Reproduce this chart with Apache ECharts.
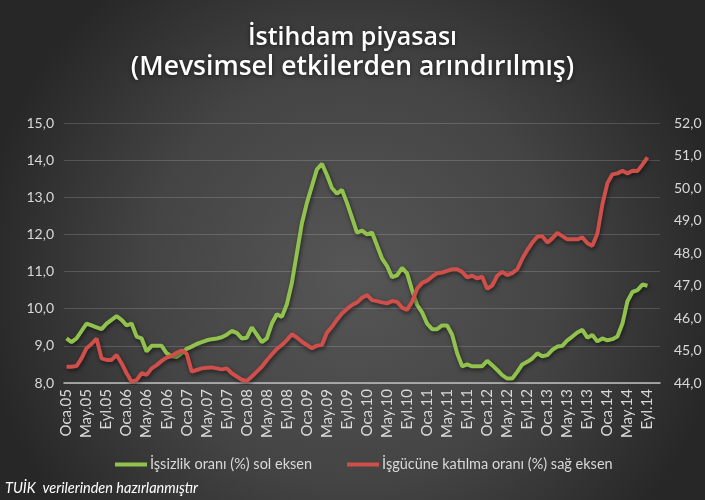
<!DOCTYPE html>
<html>
<head>
<meta charset="utf-8">
<script src="https://cdn.jsdelivr.net/npm/echarts@6/dist/echarts.min.js"></script>
<style>
html,body{margin:0;padding:0;background:#2b2b2b;}
#c{width:705px;height:500px;}
</style>
</head>
<body>
<div id="c"></div>
<script>
// Category labels (Turkish month abbreviations, years 2005-2014)
var monthNames = ['Oca','Şub','Mar','Nis','May','Haz','Tem','Ağu','Eyl','Eki','Kas','Ara'];
var years = ['05','06','07','08','09','10','11','12','13','14'];
var categoryCount = 119; // Oca.05 .. Kas.14

// İşsizlik oranı (%) - left axis
var unemployment = [
 9.2, 9.1, 9.2, 9.4, 9.6, 9.55, 9.5, 9.45, 9.6, 9.7, 9.8, 9.7,
 9.55, 9.6, 9.25, 9.2, 8.85, 9.0, 9.0, 9.0, 8.8, 8.72, 8.7, 8.8,
 8.92, 8.98, 9.05, 9.1, 9.15, 9.18, 9.2, 9.23, 9.3, 9.4, 9.35, 9.2,
 9.22, 9.5, 9.3, 9.1, 9.2, 9.6, 9.85, 9.78, 10.12, 10.7, 11.5, 12.3,
 12.85, 13.3, 13.75, 13.9, 13.6, 13.25, 13.1, 13.2, 12.85, 12.45, 12.05, 12.1,
 12.0, 12.05, 11.7, 11.35, 11.15, 10.85, 10.9, 11.1, 10.95, 10.5, 10.1, 9.9,
 9.6, 9.45, 9.45, 9.55, 9.55, 9.3, 8.8, 8.45, 8.5, 8.45, 8.45, 8.45,
 8.6, 8.48, 8.35, 8.21, 8.12, 8.12, 8.3, 8.5, 8.57, 8.66, 8.8, 8.72,
 8.75, 8.89, 8.98, 9.0, 9.15, 9.25, 9.36, 9.43, 9.22, 9.29, 9.12, 9.2,
 9.15, 9.18, 9.25, 9.6, 10.2, 10.45, 10.5, 10.65, 10.62
];

// İşgücüne katılma oranı (%) - right axis
var participation = [
 44.5, 44.5, 44.52, 44.76, 45.07, 45.2, 45.37, 44.76, 44.71, 44.71, 44.86, 44.61,
 44.3, 44.04, 44.09, 44.3, 44.25, 44.45, 44.55, 44.68, 44.78, 44.83, 44.93, 45.0,
 44.9, 44.35, 44.4, 44.45, 44.47, 44.48, 44.45, 44.42, 44.45, 44.3, 44.2, 44.1,
 44.06, 44.2, 44.35, 44.5, 44.7, 44.88, 45.05, 45.17, 45.32, 45.5, 45.4, 45.27,
 45.17, 45.07, 45.15, 45.17, 45.55, 45.73, 45.95, 46.14, 46.28, 46.4, 46.48, 46.62,
 46.71, 46.55, 46.52, 46.48, 46.45, 46.52, 46.5, 46.32, 46.25, 46.5, 46.9, 47.08,
 47.15, 47.27, 47.38, 47.4, 47.45, 47.5, 47.5, 47.42, 47.25, 47.3, 47.22, 47.27,
 46.9, 47.0, 47.3, 47.42, 47.32, 47.38, 47.5, 47.82, 48.09, 48.32, 48.5, 48.52,
 48.32, 48.45, 48.62, 48.52, 48.42, 48.42, 48.42, 48.48, 48.3, 48.22, 48.6, 49.5,
 50.15, 50.42, 50.45, 50.53, 50.45, 50.53, 50.52, 50.72, 50.94
];

var seriesNames = ['İşsizlik oranı (%) sol eksen', 'İşgücüne katılma oranı (%) sağ eksen'];
var titleLines = ['İstihdam piyasası', '(Mevsimsel etkilerden arındırılmış)'];
var sourceNote = 'TUİK  verilerinden hazırlanmıştır';

var categories = [];
for (var k = 0; k < categoryCount; k++) {
  categories.push(monthNames[k % 12] + '.' + years[Math.floor(k / 12)]);
}

function fmt(v) { return v.toFixed(1).replace('.', ','); }

var FONT = 'Lato, "Open Sans", sans-serif';
function titleStyle(size) {
  return {
    color: '#ffffff', fontSize: size, fontWeight: 600,
    fontFamily: '"Open Sans", sans-serif',
    textShadowColor: 'rgba(0,0,0,0.6)', textShadowBlur: 4, textShadowOffsetY: 1
  };
}
var chart = echarts.init(document.getElementById('c'), null, {renderer: 'canvas'});
chart.setOption({
  animation: false,
  backgroundColor: {
    type: 'radial', x: 0.5, y: 0.55, r: 0.75,
    colorStops: [
      {offset: 0, color: '#565656'},
      {offset: 0.55, color: '#444444'},
      {offset: 1, color: '#272727'}
    ]
  },
  title: [
    {text: titleLines[0], left: 'center', top: 20, textStyle: titleStyle(25)},
    {text: titleLines[1], left: 'center', top: 49, textStyle: titleStyle(26.5)},
    {
      text: sourceNote,
      left: 0, top: 476,
      textStyle: {color: '#ffffff', fontSize: 14.5, fontStyle: 'italic', fontWeight: 'normal', fontFamily: FONT}
    }
  ],
  legend: {
    bottom: 23, left: 110,
    itemWidth: 32, itemHeight: 4, itemGap: 35,
    icon: 'rect',
    textStyle: {color: '#d9d9d9', fontSize: 14.5, fontFamily: FONT, padding: [0, 0, 0, -2]},
    data: seriesNames
  },
  grid: {left: 64, right: 45, top: 123, bottom: 117, containLabel: false},
  xAxis: {
    type: 'category',
    data: categories,
    boundaryGap: true,
    axisLine: {show: true, lineStyle: {color: '#bfbfbf', width: 1.5}},
    axisTick: {show: false},
    axisLabel: {interval: 3, rotate: 90, color: '#d9d9d9', fontSize: 15, fontFamily: FONT, margin: 6},
    splitLine: {show: false}
  },
  yAxis: [
    {
      type: 'value', min: 8, max: 15, interval: 1, position: 'left',
      axisLine: {show: false}, axisTick: {show: false},
      axisLabel: {formatter: fmt, color: '#d9d9d9', fontSize: 14, fontFamily: FONT, margin: 10},
      splitLine: {show: true, lineStyle: {color: 'rgba(255,255,255,0.16)', width: 1}}
    },
    {
      type: 'value', min: 44, max: 52, interval: 1, position: 'right',
      axisLine: {show: false}, axisTick: {show: false},
      axisLabel: {formatter: fmt, color: '#d9d9d9', fontSize: 14, fontFamily: FONT, margin: 14},
      splitLine: {show: false}
    }
  ],
  series: [
    {
      name: seriesNames[0], type: 'line', yAxisIndex: 0,
      data: unemployment, symbol: 'none', smooth: false,
      color: '#92c24e',
      lineStyle: {color: '#92c24e', width: 4, shadowColor: 'rgba(0,0,0,0.55)', shadowBlur: 4, shadowOffsetY: 2, shadowOffsetX: 1}
    },
    {
      name: seriesNames[1], type: 'line', yAxisIndex: 1,
      data: participation, symbol: 'none', smooth: false,
      color: '#cf4f4b',
      lineStyle: {color: '#cf4f4b', width: 4, shadowColor: 'rgba(0,0,0,0.55)', shadowBlur: 4, shadowOffsetY: 2, shadowOffsetX: 1}
    }
  ]
});
</script>
</body>
</html>
